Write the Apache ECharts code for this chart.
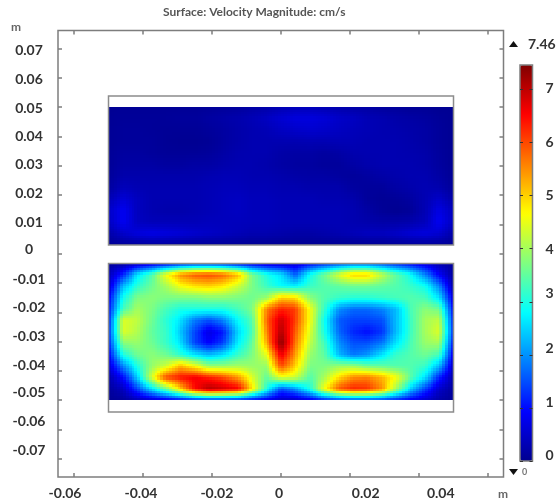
<!DOCTYPE html>
<html>
<head>
<meta charset="utf-8">
<style>html,body{margin:0;padding:0;background:#fff;}#c{width:557px;height:503px;}</style>
<script src="https://cdn.jsdelivr.net/npm/echarts@6/dist/echarts.min.js"></script>
</head>
<body>
<div id="c"></div>
<script>
// Tick positions and label text
const xTicks = [-0.06,-0.04,-0.02,0,0.02,0.04,0.06];
const yTicks = [-0.07,-0.06,-0.05,-0.04,-0.03,-0.02,-0.01,0,0.01,0.02,0.03,0.04,0.05,0.06,0.07];
const xTickLabels = ['-0.06','-0.04','-0.02','0','0.02','0.04'];
const xLabelAt = [-0.0626,-0.0406,-0.0186,-0.0006,0.02455,0.0463];
const yTickLabels = ['-0.07','-0.06','-0.05','-0.04','-0.03','-0.02','-0.01','0','0.01','0.02','0.03','0.04','0.05','0.06','0.07'];
const yLabelAt = [-0.0672,-0.0573,-0.0475,-0.0380,-0.0283,-0.0185,-0.0087,0.0013,0.0108,0.0204,0.0303,0.0399,0.0497,0.0595,0.0693];
const barTicks = [0,1,2,3,4,5,6,7];
const barLabels = ['0','1','2','3','4','5','6','7'];
const barLabelAt = [0.11,1.11,2.12,3.15,3.98,5,6,7.02];
const barMax = 7.46;
const barMin = 0;

// Domain outlines [x0, y0, x1, y1]
const upperOutline = [-0.05,0.0538,0.05,0.003];
const lowerOutline = [-0.05,-0.0033,0.05,-0.054];

// Sample locations of the values
const xNodes = [-0.05,-0.04583,-0.04167,-0.0375,-0.03333,-0.02917,-0.025,-0.02083,-0.01667,-0.0125,-0.00833,-0.00417,0,0.00417,0.00833,0.0125,0.01667,0.02083,0.025,0.02917,0.03333,0.0375,0.04167,0.04583,0.05];
const yUpperNodes = [0.05,0.04608,0.04217,0.03825,0.03433,0.03042,0.0265,0.02258,0.01867,0.01475,0.01083,0.00692,0.003];
const yLowerNodes = [-0.0033,-0.00719,-0.01108,-0.01497,-0.01887,-0.02276,-0.02665,-0.03054,-0.03443,-0.03832,-0.04222,-0.04611,-0.05];

// Velocity magnitude (cm/s), upper chamber, top row first
const upperValues = [
[.03,.06,.06,.06,.06,.06,.06,.08,.1,.12,.18,.22,.3,.35,.35,.3,.25,.2,.18,.12,.1,.06,.06,.03,.03],
[.05,.08,.08,.08,.08,.1,.1,.15,.2,.25,.32,.42,.55,.65,.65,.6,.48,.42,.32,.28,.22,.18,.14,.08,.03],
[.05,.1,.1,.08,.06,.06,.06,.1,.15,.22,.28,.32,.42,.48,.52,.48,.42,.36,.32,.28,.26,.22,.18,.1,.03],
[.05,.1,.1,.1,.05,.03,.03,.05,.14,.22,.28,.28,.28,.28,.3,.3,.32,.32,.28,.28,.28,.24,.18,.1,.03],
[.06,.14,.14,.1,.07,.07,.07,.1,.18,.26,.28,.28,.2,.18,.18,.14,.18,.26,.28,.28,.28,.26,.22,.12,.03],
[.06,.18,.18,.18,.14,.14,.18,.18,.24,.28,.28,.24,.18,.14,.14,.1,.1,.18,.24,.28,.28,.28,.24,.14,.03],
[.08,.24,.24,.24,.24,.24,.24,.28,.32,.32,.28,.28,.24,.2,.18,.18,.14,.1,.14,.2,.24,.28,.28,.18,.05],
[.12,.36,.3,.28,.28,.28,.28,.32,.36,.36,.32,.32,.28,.28,.24,.24,.24,.14,.1,.1,.18,.24,.3,.26,.08],
[.3,.6,.4,.28,.28,.28,.28,.32,.38,.42,.36,.36,.32,.32,.32,.28,.28,.24,.1,.05,.07,.14,.3,.48,.2],
[.45,.82,.4,.28,.24,.24,.28,.32,.38,.42,.36,.36,.32,.32,.32,.32,.32,.28,.18,.07,.02,.07,.3,.7,.36],
[.4,.82,.42,.34,.34,.34,.34,.38,.38,.38,.36,.36,.32,.32,.32,.32,.32,.28,.24,.2,.2,.24,.36,.82,.4],
[.2,.5,.65,.72,.66,.6,.52,.46,.4,.34,.28,.28,.24,.2,.2,.24,.28,.34,.4,.4,.46,.58,.65,.55,.2],
[.03,.06,.08,.1,.1,.08,.06,.06,.06,.05,.03,.03,.03,.03,.03,.03,.03,.03,.03,.03,.05,.06,.06,.05,.03]
];

// Velocity magnitude (cm/s), lower chamber, top row first
const lowerValues = [
[.1,.2,.5,.8,1,1.3,1.5,1.5,1.4,1.1,.9,.7,.6,.6,1,1.3,1.6,1.8,1.8,1.6,1.3,1,.7,.3,.1],
[.3,1.2,2.6,3.4,4.6,5.5,5.9,6,5.8,5.2,3.7,3,2.6,1.6,2.9,3.6,4.4,5,5,4.2,3.5,2.9,1.9,.9,.1],
[.4,2.3,3.1,3.6,4,4.6,4.9,5,4.8,4.3,3.7,3.2,2.8,2.7,3.2,3.4,3.5,3.6,3.6,3.5,3.4,3.2,2.9,1.9,.2],
[.8,2.9,3.7,3.8,3.7,3.7,3.7,3.8,3.8,3.7,3.6,3.9,5,4.9,3.8,3.4,3.2,3.1,3.1,3.2,3.3,3.4,3.3,2.6,.6],
[1,3.3,4,3.7,3.3,3,3,3,3,3.3,3.7,5.6,6.3,6.1,4.6,3.2,2,1.7,1.7,1.9,2.3,3.3,3.8,3.6,.9],
[1.1,4.4,4.2,3.6,3.1,2.6,1.8,1.5,1.9,2.8,3.4,5.8,6.9,6.1,4.6,2.9,1.6,1.4,1.4,1.5,2.3,3.2,4,4.2,1.1],
[1.2,4.4,4.1,3.5,3.2,2.4,1.4,.7,1.1,2.5,3.3,5.6,7.1,5.9,4.4,3,1.7,1.2,1,1.3,2.3,3.2,4,4.4,1.2],
[1.1,3.8,3.9,3.6,3.2,2.6,1.4,.9,1.4,2.7,3.5,5.3,7.4,5.7,4.2,3.3,2,1.5,1.5,1.8,2.6,3.3,3.9,4,1],
[.8,3,3.6,3.8,3.6,3.1,2.6,2.3,2.6,3.2,3.7,4.5,6.7,5.4,3.9,3.5,2.3,1.8,2,2.6,3.2,3.4,3.6,3.3,.7],
[.5,1.9,3,3.9,4.3,5.2,4.6,3.9,3.9,4,3.9,3.9,6,5,3.7,3.7,3.9,3.9,3.6,3.5,3.4,3.4,3.2,2.3,.4],
[.2,1,2.4,4.4,6,6.4,6.6,6.3,6,5.4,4.4,3.5,4.5,4.3,3.4,4,4.9,5.5,5.6,5.2,4.6,3.5,2.6,1.2,.2],
[.1,.4,1.4,2.6,3.6,5,6.5,7.1,6.9,6.6,4.9,3,1.5,2,3,4.6,5.9,6.3,6.2,5.5,4,2.5,1.4,.5,.1],
[.05,.1,.3,.5,.7,.9,1.1,1.2,1.2,1.1,.9,.7,.4,.4,.7,1.1,1.3,1.4,1.4,1.3,1.1,.8,.5,.2,.05]
];

const jet = ['#00008f','#0000ff','#0080ff','#00ffff','#80ff80','#ffff00','#ff8000','#ff0000','#800000'];
const frameColor = '#7d7d7d';
const textColor = '#333';
const unitColor = '#666';
const fontFamily = 'Lato, sans-serif';

function toSeriesData(xs, ys, grid, panel) {
  const out = [];
  ys.forEach((y, r) => xs.forEach((x, c) => out.push([x, y, grid[r][c], r, c, panel])));
  return out;
}
const heatData = toSeriesData(xNodes, yUpperNodes, upperValues, 0)
  .concat(toSeriesData(xNodes, yLowerNodes, lowerValues, 1));
const panels = [
  {ys: yUpperNodes, grid: upperValues},
  {ys: yLowerNodes, grid: lowerValues}
];

// Shades each read cell across its four corner values, as a mesh surface plot does.
const SHADE_STEPS = 5;
function renderCell(params, api) {
  const r = api.value(3), c = api.value(4), p = panels[api.value(5)];
  if (r + 1 >= p.ys.length || c + 1 >= xNodes.length) return null;
  const tl = api.coord([xNodes[c], p.ys[r]]);
  const br = api.coord([xNodes[c + 1], p.ys[r + 1]]);
  const a = p.grid[r][c], b = p.grid[r][c + 1], d = p.grid[r + 1][c], e = p.grid[r + 1][c + 1];
  const kids = [];
  for (let i = 0; i < SHADE_STEPS; i++) {
    const x0 = Math.round(tl[0] + (br[0] - tl[0]) * i / SHADE_STEPS);
    const x1 = Math.round(tl[0] + (br[0] - tl[0]) * (i + 1) / SHADE_STEPS);
    const u = (i + 0.5) / SHADE_STEPS;
    for (let j = 0; j < SHADE_STEPS; j++) {
      const y0 = Math.round(tl[1] + (br[1] - tl[1]) * j / SHADE_STEPS);
      const y1 = Math.round(tl[1] + (br[1] - tl[1]) * (j + 1) / SHADE_STEPS);
      const w = (j + 0.5) / SHADE_STEPS;
      const v = (a * (1 - u) + b * u) * (1 - w) + (d * (1 - u) + e * u) * w;
      kids.push({
        type: 'rect', silent: true,
        shape: {x: x0, y: y0, width: x1 - x0, height: y1 - y0},
        style: {fill: echarts.color.lerp(Math.min(1, v / barMax), jet)}
      });
    }
  }
  return {type: 'group', children: kids};
}
function renderOutline(params, api) {
  const p0 = api.coord([api.value(0), api.value(1)]);
  const p1 = api.coord([api.value(2), api.value(3)]);
  return {
    type: 'rect', silent: true,
    shape: {x: p0[0], y: p0[1], width: p1[0] - p0[0], height: p1[1] - p0[1]},
    style: {fill: 'none', stroke: '#8c8c8c', lineWidth: 1.5}
  };
}

const tickStyle = {lineStyle: {color: frameColor, width: 1.5}};
const labelFont = {color: textColor, fontFamily, fontSize: 14, fontWeight: 700};
const hiddenLine = {show: false, onZero: false};
const lookup = (vals, txt) => v => {
  const i = vals.findIndex(q => Math.abs(q - v) < 1e-6);
  return i < 0 ? '' : txt[i];
};

const chart = echarts.init(document.getElementById('c'), null, {renderer: 'canvas'});
chart.setOption({
  animation: false,
  backgroundColor: '#fff',
  tooltip: {show: false},
  title: {
    text: 'Surface: Velocity Magnitude: cm/s', left: 163, top: 6,
    textStyle: {color: '#555', fontFamily, fontSize: 12, fontWeight: 700}, padding: 0
  },
  grid: [
    {left: 58, top: 30.5, width: 445.5, height: 446.5, show: true, borderColor: frameColor, borderWidth: 1.5, backgroundColor: 'transparent'},
    {left: 520, top: 65, width: 12.5, height: 396, show: true, borderColor: frameColor, borderWidth: 1.5, backgroundColor: 'transparent', z: 8}
  ],
  xAxis: [
    {type: 'value', gridIndex: 0, position: 'bottom', min: -0.06464, max: 0.06449, splitLine: {show: false}, axisLine: hiddenLine,
     axisTick: {show: true, inside: true, length: 4, customValues: xTicks, ...tickStyle},
     axisLabel: {...labelFont, margin: 9, customValues: xLabelAt, formatter: lookup(xLabelAt, xTickLabels)}},
    {type: 'value', gridIndex: 0, position: 'top', min: -0.06464, max: 0.06449, splitLine: {show: false}, axisLine: hiddenLine,
     axisTick: {show: true, inside: true, length: 4, customValues: xTicks, ...tickStyle}, axisLabel: {show: false}},
    {type: 'value', gridIndex: 1, min: 0, max: 1, show: false}
  ],
  yAxis: [
    {type: 'value', gridIndex: 0, position: 'left', min: -0.07621, max: 0.07618, splitLine: {show: false}, axisLine: hiddenLine,
     axisTick: {show: true, inside: true, length: 4, customValues: yTicks, ...tickStyle},
     axisLabel: {...labelFont, margin: 29, align: 'center', verticalAlign: 'middle', customValues: yLabelAt, formatter: lookup(yLabelAt, yTickLabels)}},
    {type: 'value', gridIndex: 0, position: 'right', min: -0.07621, max: 0.07618, splitLine: {show: false}, axisLine: hiddenLine,
     axisTick: {show: true, inside: true, length: 4, customValues: yTicks, ...tickStyle}, axisLabel: {show: false}},
    {type: 'value', gridIndex: 1, position: 'right', min: barMin, max: barMax, z: 9, splitLine: {show: false}, axisLine: hiddenLine,
     axisTick: {show: true, inside: true, length: 3, customValues: barTicks, lineStyle: {color: '#333', width: 1}},
     axisLabel: {...labelFont, margin: 17, align: 'center', verticalAlign: 'middle', customValues: barLabelAt, formatter: lookup(barLabelAt, barLabels)}},
    {type: 'value', gridIndex: 1, position: 'left', min: barMin, max: barMax, z: 9, splitLine: {show: false}, axisLine: hiddenLine,
     axisTick: {show: true, inside: true, length: 3, customValues: barTicks, lineStyle: {color: '#333', width: 1}}, axisLabel: {show: false}}
  ],
  visualMap: {
    type: 'continuous', seriesIndex: 0, dimension: 2, min: barMin, max: barMax, calculable: false, realtime: false,
    left: 520, top: 65, itemWidth: 12.5, itemHeight: 396, padding: 0, text: ['', ''], showLabel: false,
    inRange: {color: jet}, hoverLink: false, silent: true, z: 4
  },
  series: [
    {type: 'custom', xAxisIndex: 0, yAxisIndex: 0, data: heatData, encode: {x: 0, y: 1}, renderItem: renderCell, silent: true, z: 2},
    {type: 'custom', xAxisIndex: 0, yAxisIndex: 0, data: [upperOutline, lowerOutline], encode: {x: [0, 2], y: [1, 3]}, renderItem: renderOutline, silent: true, z: 3}
  ],
  graphic: [
    {type: 'text', left: 11, top: 21, style: {text: 'm', fill: unitColor, font: '700 12px Lato, sans-serif'}},
    {type: 'text', left: 498, top: 488, style: {text: 'm', fill: unitColor, font: '700 12px Lato, sans-serif'}},
    {type: 'text', left: 528, top: 37, style: {text: '7.46', fill: textColor, font: '700 14px Lato, sans-serif'}},
    {type: 'text', left: 522, top: 468, style: {text: '0', fill: '#777', font: '700 9px Lato, sans-serif'}},
    {type: 'polygon', shape: {points: [[509, 47], [518, 47], [513.5, 41]]}, style: {fill: '#111'}},
    {type: 'polygon', shape: {points: [[509, 469], [518, 469], [513.5, 475]]}, style: {fill: '#111'}}
  ]
});
</script>
</body>
</html>
